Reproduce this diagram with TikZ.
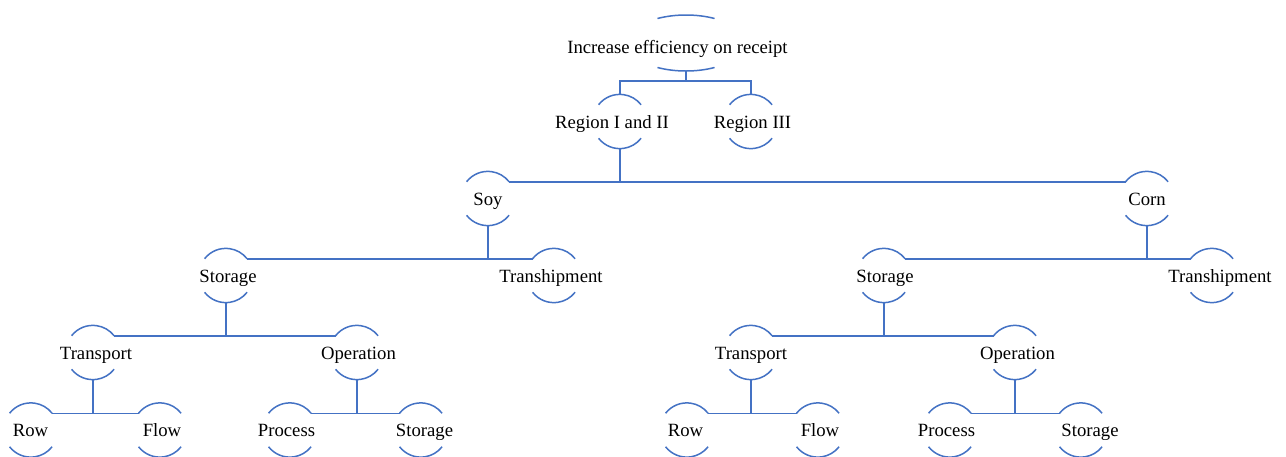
\documentclass[tikz,border=0pt]{standalone}
\usepackage{fontspec}
\setmainfont{Liberation Serif}
\usetikzlibrary{calc,shapes.geometric}
\definecolor{lnblue}{HTML}{4472C4}
% centred zero-width text, optionally shifted horizontally by #1 pt
\newcommand\ctrtext[2][0]{\makebox[0pt]{\kern#1pt\kern#1pt #2}}
\tikzset{
  lnk/.style={draw=lnblue, line width=1.5pt},
  nd/.style={circle, minimum size=54pt, inner sep=0pt, text height=13pt, text depth=0pt,
    font=\fontsize{18.7}{21}\selectfont},
  rootnd/.style={ellipse, minimum width=117.8pt, minimum height=56pt, inner sep=0pt,
    text height=13pt, text depth=0pt, font=\fontsize{18.7}{21}\selectfont}
}
\begin{document}
\begin{tikzpicture}[x=1pt,y=1pt]
\clip (0,0) rectangle (1286,-456);
\fill[white] (0,0) rectangle (1286,-456);
% root
\node[rootnd] (root) at (686,-43) {\raisebox{-3.5pt}{\ctrtext[-8.5]{Increase efficiency on receipt}}};
% level 1
\node[nd] (r12) at (620,-121.5) {\ctrtext[-8]{Region I and II}};
\node[nd] (r3) at (751,-121.5) {\ctrtext[1.5]{Region III}};
% level 2
\node[nd] (soy) at (488,-198.5) {\ctrtext{Soy}};
\node[nd] (corn) at (1147,-198.5) {\ctrtext{Corn}};
% level 3
\node[nd] (stoA) at (226,-275.5) {\ctrtext[2]{Storage}};
\node[nd] (trsA) at (554,-275.5) {\ctrtext[-3]{Transhipment}};
\node[nd] (stoB) at (884,-275.5) {\ctrtext[1]{Storage}};
\node[nd] (trsB) at (1212,-275.5) {\ctrtext[8]{Transhipment}};
% level 4
\node[nd] (traA) at (93,-352.5) {\ctrtext[3]{Transport}};
\node[nd] (opA) at (357,-352.5) {\ctrtext[1.5]{Operation}};
\node[nd] (traB) at (751,-352.5) {\ctrtext{Transport}};
\node[nd] (opB) at (1015,-352.5) {\ctrtext[2.5]{Operation}};
% level 5
\node[nd] (rowA) at (31,-430) {\ctrtext[-0.5]{Row}};
\node[nd] (flowA) at (160,-430) {\ctrtext[2]{Flow}};
\node[nd] (procA) at (290,-430) {\ctrtext[-3.5]{Process}};
\node[nd] (stA) at (421,-430) {\ctrtext[3.5]{Storage}};
\node[nd] (rowB) at (687,-430) {\ctrtext[-1.5]{Row}};
\node[nd] (flowB) at (818,-430) {\ctrtext[2]{Flow}};
\node[nd] (procB) at (950,-430) {\ctrtext[-3.5]{Process}};
\node[nd] (stB) at (1081,-430) {\ctrtext[9]{Storage}};
% arcs of the root
\draw[lnk] ($(root.center)+(119:58.9 and 28)$) arc[start angle=119, end angle=61, x radius=58.9, y radius=28];
\draw[lnk] ($(root.center)+(241:58.9 and 28)$) arc[start angle=241, end angle=299, x radius=58.9, y radius=28];
% arcs of the other nodes
\foreach \n in {r12,r3,soy,corn,stoA,trsA,stoB,trsB,traA,opA,traB,opB,rowA,flowA,procA,stA,rowB,flowB,procB,stB}{
  \draw[lnk] (\n.142) arc[start angle=142, end angle=38, radius=27];
  \draw[lnk] (\n.218) arc[start angle=218, end angle=322, radius=27];
}
% connectors
\draw[lnk] (r12.north) -- ++(0,13.5) coordinate (b0) -| (r3.north);
\draw[lnk] (root.south) -- (root.south |- b0);
\draw[lnk] (r12.south) -- (r12.south |- soy.38);
\draw[lnk] (soy.38) -- (corn.142);
\draw[lnk] (soy.south) -- (soy.south |- stoA.38);
\draw[lnk] (stoA.38) -- (trsA.142);
\draw[lnk] (corn.south) -- (corn.south |- stoB.38);
\draw[lnk] (stoB.38) -- (trsB.142);
\draw[lnk] (stoA.south) -- (stoA.south |- traA.38);
\draw[lnk] (traA.38) -- (opA.142);
\draw[lnk] (stoB.south) -- (stoB.south |- traB.38);
\draw[lnk] (traB.38) -- (opB.142);
\draw[lnk] (traA.south) -- (traA.south |- rowA.38);
\draw[lnk] (rowA.38) -- (flowA.142);
\draw[lnk] (opA.south) -- (opA.south |- procA.38);
\draw[lnk] (procA.38) -- (stA.142);
\draw[lnk] (traB.south) -- (traB.south |- rowB.38);
\draw[lnk] (rowB.38) -- (flowB.142);
\draw[lnk] (opB.south) -- (opB.south |- procB.38);
\draw[lnk] (procB.38) -- (stB.142);
\end{tikzpicture}
\end{document}
